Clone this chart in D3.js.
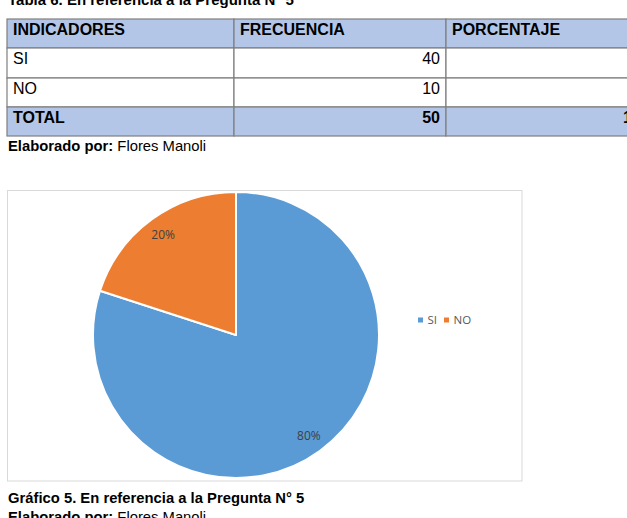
<!DOCTYPE html>
<html>
<head>
<meta charset="utf-8">
<script src="https://cdn.jsdelivr.net/npm/d3@7"></script>
<style>
  html, body { margin: 0; padding: 0; background: #fff; overflow: hidden; }
  svg { display: block; }
</style>
</head>
<body>
<svg id="page" width="627" height="518"></svg>
<script>
// datos de la tabla y del grafico
const indicadores = ["SI", "NO"];
const frecuencia = [40, 10];
const porcentaje = ["80%", "20%"];
const total = { label: "TOTAL", frecuencia: 50, porcentaje: "100%" };
const encabezados = ["INDICADORES", "FRECUENCIA", "PORCENTAJE"];
const colores = ["#5b9bd5", "#ed7d31"];

const svg = d3.select("#page");
const sans = "'Liberation Sans', Arial, sans-serif";

// titulo de la tabla (cortado arriba)
svg.append("text")
    .attr("x", 8).attr("y", 5)
    .attr("font-family", sans).attr("font-size", 15).attr("font-weight", "bold")
    .attr("fill", "#000")
    .text("Tabla 6. En referencia a la Pregunta N° 5");

// tabla
const colX = [7, 234, 446, 670];
const rowY = [19, 48, 78, 107, 136];
const filas = [
    { cells: encabezados, head: true },
    { cells: [indicadores[0], frecuencia[0], porcentaje[0]] },
    { cells: [indicadores[1], frecuencia[1], porcentaje[1]] },
    { cells: [total.label, total.frecuencia, total.porcentaje], head: true }
];

const tabla = svg.append("g");
filas.forEach((f, i) => {
    const y0 = rowY[i], y1 = rowY[i + 1];
    f.cells.forEach((c, j) => {
        tabla.append("rect")
            .attr("x", colX[j]).attr("y", y0)
            .attr("width", colX[j + 1] - colX[j]).attr("height", y1 - y0)
            .attr("fill", f.head ? "#b4c6e7" : "#fff")
            .attr("stroke", "#7f7f7f").attr("stroke-width", 1.2);
        const right = i > 0 && j > 0;
        tabla.append("text")
            .attr("x", right ? colX[j + 1] - 6 : colX[j] + 6)
            .attr("y", y0 + 16)
            .attr("text-anchor", right ? "end" : "start")
            .attr("font-family", sans).attr("font-size", 16)
            .attr("font-weight", f.head ? "bold" : "normal")
            .attr("fill", "#000")
            .text(c);
    });
});

// elaborado por
function elaborado(y) {
    const t = svg.append("text")
        .attr("x", 8).attr("y", y)
        .attr("font-family", sans).attr("font-size", 14.8).attr("fill", "#000");
    t.append("tspan").attr("font-weight", "bold").text("Elaborado por: ");
    t.append("tspan").text("Flores Manoli");
}
elaborado(151);

// area del grafico
svg.append("rect")
    .attr("x", 7.5).attr("y", 190.5)
    .attr("width", 514.5).attr("height", 290.5)
    .attr("fill", "#fff").attr("stroke", "#d9d9d9").attr("stroke-width", 1);

const cx = 236, cy = 335, r = 143;
const pie = d3.pie().sort(null)(frecuencia);
const arc = d3.arc().innerRadius(0).outerRadius(r);
const arcLabel = d3.arc().innerRadius(124).outerRadius(124);

const g = svg.append("g").attr("transform", `translate(${cx},${cy})`);
g.selectAll("path")
    .data(pie)
    .join("path")
    .attr("d", arc)
    .attr("fill", (d, i) => colores[i])
    .attr("stroke", "#fff").attr("stroke-width", 2)
    .attr("stroke-linejoin", "round");

g.selectAll("text")
    .data(pie)
    .join("text")
    .attr("transform", d => `translate(${arcLabel.centroid(d)})`)
    .attr("text-anchor", "middle").attr("dy", "0.35em")
    .attr("font-family", "'Open Sans', sans-serif").attr("font-size", 12)
    .attr("fill", "#404040")
    .text((d, i) => porcentaje[i]);

// leyenda
const legX = [418, 444];
const ley = svg.append("g");
indicadores.forEach((n, i) => {
    ley.append("rect")
        .attr("x", legX[i]).attr("y", 317.5)
        .attr("width", 5).attr("height", 5)
        .attr("fill", colores[i]);
    ley.append("text")
        .attr("x", legX[i] + 9.5).attr("y", 323.5)
        .attr("font-family", "'Open Sans', sans-serif").attr("font-size", 11.5)
        .attr("fill", "#595959")
        .text(n);
});

// pie de grafico
svg.append("text")
    .attr("x", 8).attr("y", 503)
    .attr("font-family", sans).attr("font-size", 14.8).attr("font-weight", "bold")
    .attr("fill", "#000")
    .text("Gráfico 5. En referencia a la Pregunta N° 5");
elaborado(522);
</script>
</body>
</html>
